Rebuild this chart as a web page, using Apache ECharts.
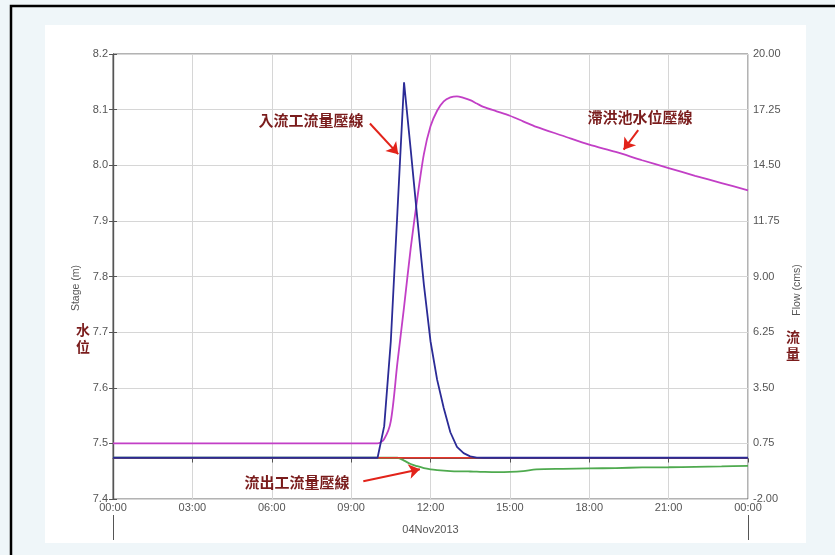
<!DOCTYPE html>
<html><head><meta charset="utf-8">
<script src="https://cdn.jsdelivr.net/npm/echarts@6/dist/echarts.min.js"></script>
<style>html,body{margin:0;padding:0;background:#eff6f9}#c{width:835px;height:555px}</style>
</head><body><div id="c"></div>
<script>
// ---- data (hours since 00:00 04Nov2013) ----
const hours = [0, 3, 6, 9, 10, 10.25, 10.5, 10.75, 11, 11.25, 11.5, 11.75, 12, 12.25, 12.5, 12.75, 13, 13.25, 13.5, 13.75, 14, 14.5, 15, 15.5, 16, 17, 18, 19, 20, 21, 22, 23, 24];
// detention pond stage (m), left axis
const stage = [7.5, 7.5, 7.5, 7.5, 7.5, 7.508, 7.54, 7.645, 7.745, 7.85, 7.94, 8.02, 8.07, 8.098, 8.115, 8.122, 8.124, 8.121, 8.117, 8.111, 8.105, 8.097, 8.089, 8.079, 8.069, 8.053, 8.037, 8.024, 8.009, 7.995, 7.981, 7.968, 7.955];
// inflow (cms), right axis
const inflow = [0.04, 0.04, 0.04, 0.04, 0.04, 1.6, 5.8, 12.2, 18.6, 15.3, 11.9, 8.6, 5.8, 3.9, 2.5, 1.3, 0.58, 0.27, 0.11, 0.05, 0.04, 0.04, 0.04, 0.04, 0.04, 0.04, 0.04, 0.04, 0.04, 0.04, 0.04, 0.04, 0.04];
// red flow line (cms), right axis
const redFlow = [0.04, 0.04, 0.04, 0.04, 0.04, 0.04, 0.04, 0.04, 0.04, 0.04, 0.04, 0.04, 0.04, 0.04, 0.04, 0.04, 0.04, 0.04, 0.04, 0.04, 0.04, 0.04, 0.04, 0.04, 0.04, 0.04, 0.04, 0.04, 0.04, 0.04, 0.04, 0.04, 0.04];
// outflow (cms), right axis
const outflow = [0.04, 0.04, 0.04, 0.04, 0.04, 0.04, 0.04, 0.04, -0.1, -0.27, -0.38, -0.47, -0.53, -0.57, -0.6, -0.62, -0.63, -0.63, -0.64, -0.65, -0.66, -0.67, -0.66, -0.62, -0.54, -0.51, -0.49, -0.47, -0.44, -0.43, -0.41, -0.39, -0.36];

const xTickLabels = ['00:00', '03:00', '06:00', '09:00', '12:00', '15:00', '18:00', '21:00', '00:00'];
const dayLabel = '04Nov2013';
const leftAxisName = 'Stage (m)';
const rightAxisName = 'Flow (cms)';
const leftSideLabel = '水位';
const rightSideLabel = '流量';

// annotations in data coordinates [hour, stage]
const annotTexts = ['入流工流量壓線', '滯洪池水位壓線', '流出工流量壓線'];
const annotPos = [[7.48, 8.081], [19.92, 8.087], [6.95, 7.4306]];
const arrowFrom = [[9.71, 8.075], [19.85, 8.063], [9.46, 7.432]];
const arrowTo = [[10.78, 8.02], [19.3, 8.028], [11.6, 7.4535]];

const pair = vals => hours.map((h, i) => [h, vals[i]]);
const axisGray = '#555';
const gridGray = '#d6d6d6';
const latin = '"Liberation Sans", Arial, sans-serif';
const cjk = '"Noto Sans CJK TC", "Noto Sans CJK SC", sans-serif';
const annotColor = '#7a1c1c';

const chart = echarts.init(document.getElementById('c'));
chart.setOption({
  animation: false,
  backgroundColor: '#eff6f9',
  graphic: [
    { type: 'rect', z: -10, silent: true, shape: { x: 11, y: 6, width: 900, height: 700 }, style: { fill: '#eff6f9', stroke: '#000', lineWidth: 2.5 } },
    { type: 'rect', z: -9, silent: true, shape: { x: 45, y: 25, width: 761, height: 518 }, style: { fill: '#fff' } },
    { type: 'text', z: 10, silent: true, x: 83, y: 338, style: { text: leftSideLabel.split('').join('\n'), fill: annotColor, font: 'bold 14px ' + cjk, align: 'center', verticalAlign: 'middle', lineHeight: 17 } },
    { type: 'text', z: 10, silent: true, x: 793, y: 345, style: { text: rightSideLabel.split('').join('\n'), fill: annotColor, font: 'bold 14px ' + cjk, align: 'center', verticalAlign: 'middle', lineHeight: 17 } }
  ],
  grid: { left: 113, right: 87, top: 54, bottom: 56, show: true, borderColor: '#666', borderWidth: 1, backgroundColor: 'transparent' },
  xAxis: [
    {
      type: 'value', min: 0, max: 24, interval: 3, position: 'bottom',
      axisLine: { show: true, lineStyle: { color: axisGray, width: 1 } },
      axisTick: { show: true, length: 4, lineStyle: { color: axisGray } },
      axisLabel: { margin: 3, fontSize: 11, color: '#555', fontFamily: latin, formatter: v => xTickLabels[Math.round(v / 3)] },
      splitLine: { show: true, lineStyle: { color: gridGray } }
    },
    {
      type: 'value', min: 0, max: 24, interval: 24, position: 'bottom', offset: 16,
      axisLine: { show: false },
      axisTick: { show: true, length: 25, lineStyle: { color: axisGray } },
      axisLabel: { show: false },
      splitLine: { show: false },
      name: dayLabel, nameLocation: 'middle', nameGap: 9,
      nameTextStyle: { color: '#555', fontSize: 11, fontFamily: latin }
    }
  ],
  yAxis: [
    {
      type: 'value', min: 7.4, max: 8.2, interval: 0.1, position: 'left',
      axisLine: { show: true, lineStyle: { color: axisGray, width: 1.2 } },
      axisTick: { show: true, length: 4, lineStyle: { color: axisGray } },
      axisLabel: { margin: 5, fontSize: 11, color: '#555', fontFamily: latin, formatter: v => v.toFixed(1) },
      splitLine: { show: true, lineStyle: { color: gridGray } },
      name: leftAxisName, nameLocation: 'middle', nameGap: 23,
      nameTextStyle: { color: '#555', fontSize: 10.5, fontFamily: latin, padding: [0, 23, 0, 0] }
    },
    {
      type: 'value', min: -2, max: 20, interval: 2.75, position: 'right',
      axisLine: { show: true, lineStyle: { color: axisGray, width: 1.2 } },
      axisTick: { show: true, length: 4, lineStyle: { color: axisGray } },
      axisLabel: { margin: 5, fontSize: 11, color: '#555', fontFamily: latin, formatter: v => v.toFixed(2) },
      splitLine: { show: false },
      name: rightAxisName, nameLocation: 'middle', nameGap: 40,
      nameTextStyle: { color: '#555', fontSize: 10.5, fontFamily: latin, padding: [0, 27, 0, 0] }
    }
  ],
  series: [
    { name: 'outflow', type: 'line', yAxisIndex: 1, data: pair(outflow), symbol: 'none', smooth: 0.3, z: 2, lineStyle: { color: '#4faa4f', width: 1.8 }, itemStyle: { color: '#4faa4f' } },
    { name: 'red', type: 'line', yAxisIndex: 1, data: pair(redFlow), symbol: 'none', z: 3, lineStyle: { color: '#e8352a', width: 1.5 }, itemStyle: { color: '#e8352a' } },
    {
      name: 'stage', type: 'line', yAxisIndex: 0, data: pair(stage), symbol: 'none', smooth: 0.3, z: 4,
      lineStyle: { color: '#c23fc6', width: 1.8 }, itemStyle: { color: '#c23fc6' },
      markPoint: {
        silent: true, symbol: 'rect', symbolSize: 1,
        itemStyle: { color: 'rgba(0,0,0,0)' },
        label: { show: true, position: 'inside', formatter: '{b}', color: annotColor, fontSize: 15, fontWeight: 'bold', fontFamily: cjk },
        data: annotTexts.map((t, i) => ({ name: t, coord: annotPos[i] }))
      }
    },
    { name: 'inflow', type: 'line', yAxisIndex: 1, data: pair(inflow), symbol: 'none', z: 5, lineStyle: { color: '#2b2b96', width: 1.8 }, itemStyle: { color: '#2b2b96' } },
    {
      name: 'arrows', type: 'line', yAxisIndex: 0, data: [], z: 6, silent: true,
      markLine: {
        silent: true, symbol: ['none', 'arrow'], symbolSize: 11, symbolOffset: 0,
        lineStyle: { color: '#e2231a', width: 2, type: 'solid' },
        itemStyle: { color: '#e2231a' },
        label: { show: false },
        emphasis: { disabled: true },
        data: arrowFrom.map((f, i) => [{ coord: f }, { coord: arrowTo[i] }])
      }
    }
  ]
});
</script>
</body></html>
